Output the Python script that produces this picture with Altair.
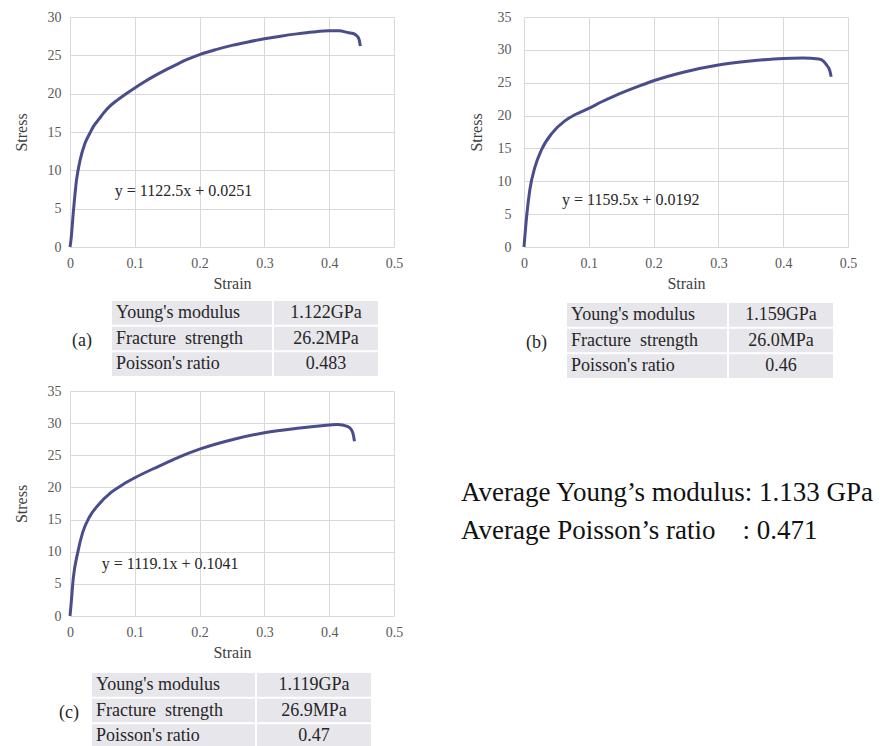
import altair as alt
import pandas as pd

FONT = "Liberation Serif, Times New Roman, serif"
LINE_COLOR = "#4a4d8c"
CELL = "#e7e6eb"
TXT = "#262626"

# ---- stress-strain curves ----
strain_a = [0, 0.0015, 0.005, 0.010, 0.0155, 0.023, 0.031, 0.036, 0.045, 0.052, 0.062, 0.072,
            0.085, 0.1, 0.115, 0.129, 0.15, 0.165, 0.18, 0.2, 0.225, 0.25, 0.275, 0.3, 0.325,
            0.35, 0.375, 0.4, 0.415, 0.43, 0.437, 0.442, 0.446, 0.448]
stress_a = [0, 0.9, 4.4, 8.7, 11.3, 13.5, 14.9, 15.7, 16.7, 17.5, 18.4, 19.1,
            19.9, 20.75, 21.55, 22.25, 23.2, 23.83, 24.43, 25.1, 25.75, 26.3, 26.75, 27.15, 27.5,
            27.8, 28.05, 28.2, 28.2, 27.95, 27.85, 27.6, 27.1, 26.2]

strain_b = [0, 0.0005, 0.004, 0.009, 0.017, 0.027, 0.043, 0.063, 0.08, 0.1, 0.12, 0.14,
            0.17, 0.2, 0.246, 0.3, 0.349, 0.4, 0.43, 0.455, 0.462, 0.467, 0.472, 0.474]
stress_b = [0, 0.6, 4.6, 8.7, 12.2, 14.8, 17.3, 19.2, 20.2, 21.1, 22.1, 23.0,
            24.2, 25.3, 26.6, 27.7, 28.3, 28.7, 28.75, 28.6, 28.3, 27.7, 26.8, 25.9]

strain_c = [0, 0.0015, 0.005, 0.012, 0.0196, 0.030, 0.043, 0.063, 0.08, 0.1, 0.136, 0.15,
            0.169, 0.2, 0.253, 0.3, 0.351, 0.4, 0.413, 0.428, 0.434, 0.437, 0.439]
stress_c = [0, 1.6, 5.8, 9.9, 13.0, 15.4, 17.2, 19.2, 20.35, 21.5, 23.25, 23.9,
            24.75, 25.95, 27.5, 28.5, 29.2, 29.7, 29.8, 29.5, 29.0, 28.3, 27.2]

# ---- fit equations (position in data units) ----
eq_text = ["y = 1122.5x + 0.0251", "y = 1159.5x + 0.0192", "y = 1119.1x + 0.1041"]
eq_strain = [0.069, 0.0586, 0.049]
eq_stress = [7.3, 7.15, 8.1]

# ---- tables ----
props = ["Young's modulus", "Fracture\u00a0\u00a0strength", "Poisson's ratio"]
vals_a = ["1.122GPa", "26.2MPa", "0.483"]
vals_b = ["1.159GPa", "26.0MPa", "0.46"]
vals_c = ["1.119GPa", "26.9MPa", "0.47"]
panel_labels = ["(a)", "(b)", "(c)"]

summary_lines = ["Average Young\u2019s modulus: 1.133 GPa",
                 "Average Poisson\u2019s ratio\u00a0\u00a0\u00a0\u00a0: 0.471"]


def curve_chart(strain, stress, ymax, h, i, lab_pad, title_pad):
    df = pd.DataFrame({"Strain": strain, "Stress": stress, "i": list(range(len(strain)))})
    x = alt.X("Strain:Q", title="Strain",
              scale=alt.Scale(domain=[0, 0.5], nice=False),
              axis=alt.Axis(values=[0, 0.1, 0.2, 0.3, 0.4, 0.5], format="~g",
                            labelPadding=9, titlePadding=5, labelFlush=False))
    y = alt.Y("Stress:Q", title="Stress",
              scale=alt.Scale(domain=[0, ymax], nice=False),
              axis=alt.Axis(values=list(range(0, ymax + 1, 5)), labelOverlap=False,
                            labelPadding=lab_pad, titlePadding=title_pad))
    line = alt.Chart(df).mark_line(color=LINE_COLOR, strokeWidth=3, interpolate="monotone").encode(
        x=x, y=y, order=alt.Order("i:Q"))
    edf = pd.DataFrame({"Strain": [eq_strain[i]], "Stress": [eq_stress[i]], "label": [eq_text[i]]})
    eq = alt.Chart(edf).mark_text(align="left", baseline="middle", font=FONT,
                                  fontSize=16, color=TXT).encode(
        x=x, y=y, text="label:N")
    return alt.layer(line, eq).properties(width=324, height=h)


def table_col(texts, width, left):
    df = pd.DataFrame({"row": [0, 1, 2], "txt": texts, "col": ["c"] * 3})
    y = alt.Y("row:O", axis=None, scale=alt.Scale(paddingInner=0.08, paddingOuter=0))
    xs = alt.Scale(paddingInner=0, paddingOuter=0)
    rect = alt.Chart(df).mark_rect(color=CELL).encode(
        x=alt.X("col:N", axis=None, scale=xs), y=y)
    if left:
        txt = alt.Chart(df).mark_text(align="left", baseline="middle", dx=4, font=FONT,
                                      fontSize=18, color=TXT).encode(
            x=alt.X("col:N", axis=None, scale=xs, bandPosition=0), y=y, text="txt:N")
    else:
        txt = alt.Chart(df).mark_text(align="center", baseline="middle", font=FONT,
                                      fontSize=18, color=TXT).encode(
            x=alt.X("col:N", axis=None, scale=xs), y=y, text="txt:N")
    return alt.layer(rect, txt).properties(width=width, height=75)


def label_chart(i, width, xr):
    df = pd.DataFrame({"t": [panel_labels[i]]})
    return alt.Chart(df).mark_text(align="right", baseline="middle", font=FONT,
                                   fontSize=18, color=TXT).encode(
        x=alt.value(xr), y=alt.value(40), text="t:N").properties(width=width, height=75)


def table(i, vals, lw, xr, w1, w2):
    return alt.hconcat(label_chart(i, lw, xr),
                       alt.hconcat(table_col(props, w1, True), table_col(vals, w2, False), spacing=2),
                       spacing=0)


panel_a = alt.vconcat(curve_chart(strain_a, stress_a, 30, 230, 0, 9, 18),
                      table(0, vals_a, 42, 22, 160, 104), spacing=10)
panel_b = alt.vconcat(curve_chart(strain_b, stress_b, 35, 230, 1, 13, 13),
                      table(1, vals_b, 43, 23, 160, 104), spacing=12)
panel_c = alt.vconcat(curve_chart(strain_c, stress_c, 35, 225, 2, 9, 18),
                      table(2, vals_c, 22, 9, 163, 114), spacing=13)

sdf = pd.DataFrame({"t": ["\n".join(summary_lines)]})
summary = alt.Chart(sdf).mark_text(align="left", baseline="alphabetic", lineBreak="\n",
                                   lineHeight=38, font=FONT, fontSize=27, color="#111111").encode(
    x=alt.value(0), y=alt.value(110), text="t:N").properties(width=360, height=200)

row1 = alt.hconcat(panel_a, panel_b, spacing=65)
row2 = alt.hconcat(panel_c, summary, spacing=58)

chart = alt.vconcat(row1, row2, spacing=6).properties(
    padding={"left": 5, "top": 2, "right": 0, "bottom": 0}
).configure(background="white").configure_view(stroke=None).configure_axis(
    grid=True, gridColor="#d9d9d9", gridWidth=1, domain=False, ticks=False,
    labelFont=FONT, labelFontSize=14, labelColor="#595959",
    titleFont=FONT, titleFontSize=16, titleColor="#404040", titleFontWeight="normal"
)

chart.save("out.html", embed_options={"renderer": "svg", "actions": False})
